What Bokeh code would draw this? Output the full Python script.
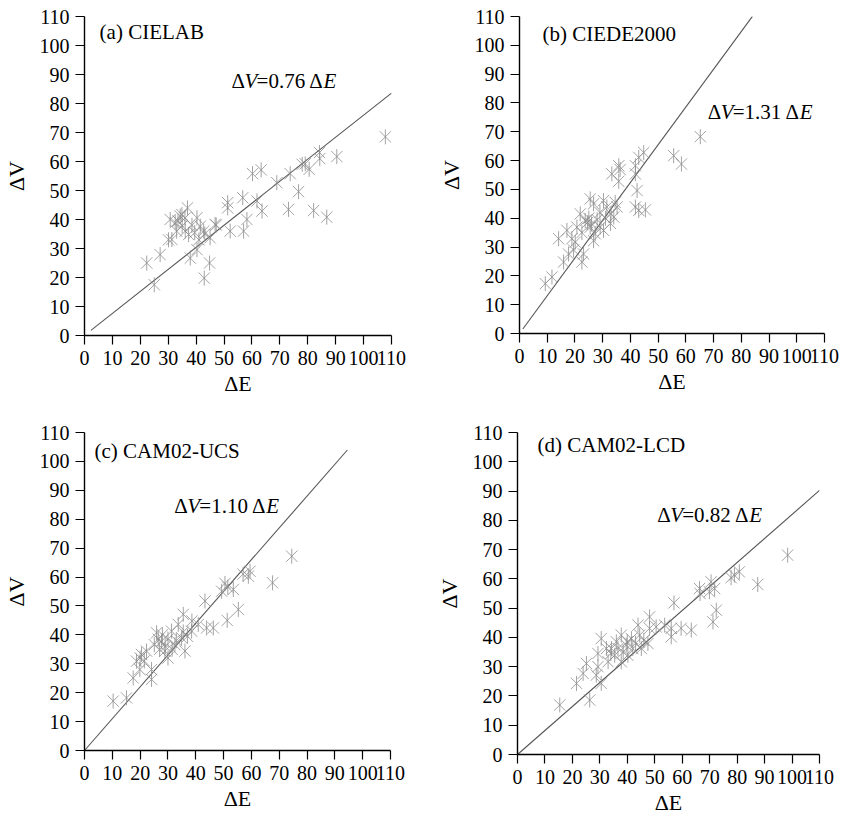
import math
from bokeh.plotting import figure
from bokeh.models import Range1d, Label, FixedTicker
from bokeh.layouts import column, row
from bokeh.embed import file_html
from bokeh.resources import INLINE

FONT = "Liberation Serif"

ticks = [0, 10, 20, 30, 40, 50, 60, 70, 80, 90, 100, 110]
titles = ["(a) CIELAB", "(b) CIEDE2000", "(c) CAM02-UCS", "(d) CAM02-LCD"]
x_title = "ΔE"
y_title = "ΔV"
slopes = [0.76, 1.31, 1.10, 0.82]
fit_start = [2.3, 1.2, 0.0, 0.0]
fit_end = [110.0, 84.0, 94.5, 110.0]

dE_a = [107.8, 90.4, 84.2, 84.3, 78.0, 79.1, 80.5, 73.7, 68.9, 76.7, 73.1, 82.1, 86.8,
        60.2, 63.3, 61.8, 63.6, 56.7, 58.2, 57.0, 52.2, 51.3, 51.3, 47.2, 45.0, 44.8,
        42.9, 36.9, 37.9, 40.3, 34.9, 30.7, 31.3, 30.1, 27.1, 22.3, 25.0, 32.5, 34.3,
        35.0, 36.1, 37.3, 40.3, 41.5, 42.7, 43.1, 46.8, 33.5, 38.5, 39.5, 41.0, 36.0, 33.0]
dV_a = [68.5, 61.7, 63.1, 61.0, 59.0, 59.2, 57.3, 55.8, 52.7, 49.6, 43.5, 43.1, 40.8,
        55.8, 57.1, 46.4, 42.9, 47.5, 40.0, 36.0, 36.0, 45.8, 44.0, 38.1, 33.7, 25.0,
        19.8, 44.0, 26.7, 29.6, 41.7, 40.0, 33.1, 33.0, 27.9, 25.0, 17.5, 38.9, 41.2,
        37.8, 36.0, 34.8, 40.6, 37.7, 36.0, 35.0, 38.3, 39.5, 38.0, 35.5, 33.0, 40.5, 36.0]

dE_b = [65.2, 55.6, 58.4, 44.8, 43.0, 41.8, 41.8, 35.8, 33.3, 36.3, 35.8, 42.4, 41.8,
        43.0, 45.4, 25.5, 26.7, 30.3, 31.5, 35.2, 34.0, 32.8, 21.9, 23.7, 25.5, 27.3,
        29.1, 20.7, 17.1, 14.1, 18.9, 20.1, 17.7, 15.9, 22.5, 9.3, 11.7, 23.1, 26.7,
        30.3, 24.5, 25.0, 26.0, 28.0, 33.0, 31.0, 22.5, 29.0, 34.5, 19.5]
dV_b = [68.3, 61.7, 58.8, 62.8, 61.1, 58.2, 55.4, 58.2, 55.4, 56.9, 52.8, 49.6, 43.9,
        42.7, 42.9, 46.7, 45.0, 46.1, 43.9, 43.9, 40.4, 38.2, 41.5, 39.2, 36.9, 34.6,
        36.9, 36.9, 35.8, 32.9, 32.9, 31.7, 27.6, 24.8, 24.8, 17.3, 19.6, 27.6, 32.2,
        35.8, 38.5, 40.0, 38.0, 39.5, 41.5, 40.0, 35.0, 42.0, 45.5, 29.0]

dE_c = [74.5, 67.6, 59.5, 58.9, 55.3, 51.3, 53.5, 50.5, 49.3, 43.3, 46.3, 43.9, 40.9,
        35.5, 38.6, 33.7, 31.3, 34.9, 36.1, 30.0, 27.7, 25.9, 25.1, 20.5, 18.7, 22.3,
        19.9, 17.5, 24.1, 24.1, 15.1, 10.3, 28.9, 32.5, 38.5, 57.0, 51.5, 30.0, 29.0,
        33.0, 35.5, 37.0, 27.0, 20.0, 28.0, 31.5, 26.5, 21.5]
dV_c = [67.2, 58.0, 62.0, 60.3, 48.8, 45.0, 55.7, 57.8, 55.1, 51.7, 42.4, 42.4, 43.6,
        47.1, 44.8, 43.6, 41.3, 39.0, 34.4, 32.0, 37.8, 40.7, 36.6, 33.2, 30.9, 34.4,
        28.0, 25.1, 24.6, 28.0, 18.2, 17.1, 34.4, 36.6, 41.3, 61.0, 56.5, 38.5, 36.0,
        38.0, 41.0, 39.5, 35.0, 32.0, 40.0, 35.0, 38.5, 31.0]

dE_d = [98.4, 87.5, 80.8, 79.0, 77.8, 72.4, 71.2, 70.5, 71.8, 69.9, 66.3, 66.5, 57.0,
        63.3, 59.6, 56.0, 56.0, 53.6, 50.5, 48.1, 48.1, 47.5, 44.5, 43.9, 45.1, 41.5,
        39.6, 37.8, 36.0, 35.4, 34.2, 32.4, 37.8, 30.5, 29.3, 29.3, 30.5, 28.7, 25.1,
        23.9, 21.5, 26.3, 15.4, 40.2, 42.0, 33.0, 36.6, 38.5, 40.0, 43.0, 46.0, 34.0]
dV_d = [68.1, 58.1, 62.4, 61.3, 60.4, 49.3, 45.3, 59.0, 56.7, 55.6, 56.7, 55.0, 51.8,
        42.5, 43.1, 40.2, 43.1, 44.2, 43.6, 47.0, 43.1, 37.9, 40.8, 44.2, 36.2, 39.6,
        37.4, 40.8, 38.5, 33.9, 36.2, 36.2, 31.7, 39.6, 34.5, 30.0, 24.3, 27.1, 31.1,
        27.7, 24.3, 18.6, 16.9, 33.9, 36.2, 31.7, 36.2, 35.0, 38.5, 38.0, 39.0, 34.5]

# layout / placement settings per panel
panels = [
    dict(dE=dE_a, dV=dV_a, bl=81, br=32, bt=15, bb=76, fw=307, fh=319,
         title_xy=(5.4, 104.5), ann_xy=(52.7, 87.9)),
    dict(dE=dE_b, dV=dV_b, bl=96, br=20, bt=16, bb=77, fw=305, fh=317,
         title_xy=(8.3, 103.9), ann_xy=(67.9, 76.9)),
    dict(dE=dE_c, dV=dV_c, bl=83, br=31, bt=22, bb=67, fw=306, fh=318,
         title_xy=(3.6, 103.6), ann_xy=(32.3, 84.5)),
    dict(dE=dE_d, dV=dV_d, bl=96, br=23, bt=17, bb=68, fw=302, fh=322,
         title_xy=(7.3, 105.6), ann_xy=(50.9, 81.7)),
]

FS = "21px"
MARK = "#8c8c8c"


def lab(p, x, y, text, style="normal", align="left", baseline="middle", xo=0, size=FS):
    p.add_layout(Label(x=x, y=y, text=text, text_font=FONT, text_font_size=size,
                       text_font_style=style, text_align=align, text_baseline=baseline,
                       x_offset=xo, text_color="black"))


figs = []
for i, cfg in enumerate(panels):
    p = figure(frame_width=cfg["fw"], frame_height=cfg["fh"],
               min_border_left=cfg["bl"], min_border_right=cfg["br"],
               min_border_top=cfg["bt"], min_border_bottom=cfg["bb"],
               x_range=Range1d(0, 110), y_range=Range1d(0, 110),
               output_backend="svg", toolbar_location=None, tools="")
    p.outline_line_color = None
    p.xgrid.visible = False
    p.ygrid.visible = False
    p.background_fill_color = "white"
    p.border_fill_color = "white"
    p.xaxis.axis_label = x_title
    p.yaxis.axis_label = y_title
    for ax in (p.xaxis[0], p.yaxis[0]):
        ax.ticker = FixedTicker(ticks=ticks)
        ax.minor_tick_line_color = None
        ax.major_tick_in = 0
        ax.major_tick_out = 9
        ax.major_tick_line_width = 1.2
        ax.axis_line_width = 1.4
        ax.axis_line_color = "black"
        ax.major_tick_line_color = "black"
        ax.major_label_text_font = FONT
        ax.major_label_text_font_size = "20px"
        ax.major_label_text_color = "black"
        ax.major_label_standoff = 6
        ax.axis_label_text_font = FONT
        ax.axis_label_text_font_size = "22px"
        ax.axis_label_text_font_style = "normal"
        ax.axis_label_text_color = "black"
    p.xaxis[0].axis_label_standoff = 3
    p.yaxis[0].axis_label_standoff = 8
    # fit line
    s = slopes[i]
    xs = [fit_start[i], fit_end[i]]
    p.line(xs, [s * v for v in xs], line_color="#555555", line_width=1.1)
    # asterisk-like markers: X plus vertical bar
    p.scatter(cfg["dE"], cfg["dV"], marker="x", size=16, line_color=MARK, line_alpha=0.8, line_width=1.0)
    p.scatter(cfg["dE"], cfg["dV"], marker="dash", angle=math.pi / 2, size=15,
              line_color=MARK, line_alpha=0.8, line_width=1.0)
    # panel title
    tx, ty = cfg["title_xy"]
    lab(p, tx, ty, titles[i])
    # equation annotation
    ax_, ay_ = cfg["ann_xy"]
    lab(p, ax_, ay_, "Δ")
    lab(p, ax_, ay_, "V", style="italic", xo=13)
    lab(p, ax_, ay_, "=%.2f Δ" % s, xo=25)
    lab(p, ax_, ay_, "E", style="italic", xo=92)
    figs.append(p)

layout = column(row(figs[0], figs[1]), row(figs[2], figs[3]))
open("out.html", "w").write(file_html(layout, INLINE))
